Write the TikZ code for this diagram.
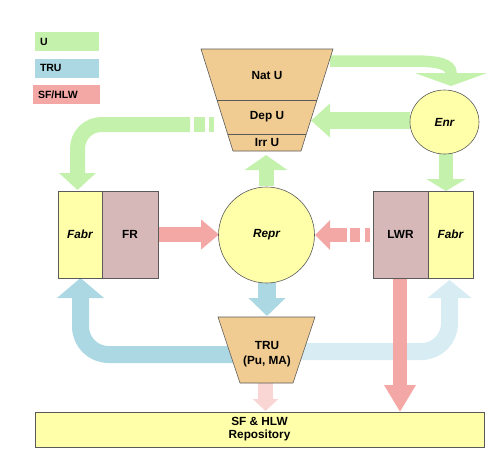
\documentclass[tikz,border=0pt]{standalone}
\usepackage{fontspec}
\setmainfont{Liberation Sans}
\usetikzlibrary{arrows.meta,shapes.geometric}
\definecolor{gU}{RGB}{196,242,172}
\definecolor{bT}{RGB}{172,216,228}
\definecolor{rS}{RGB}{244,168,166}
\definecolor{bTf}{RGB}{216,236,243}
\definecolor{rSf}{RGB}{249,214,212}
\definecolor{tanC}{RGB}{240,204,146}
\definecolor{yelC}{RGB}{255,255,170}
\definecolor{brnC}{RGB}{214,184,184}
\definecolor{edgeC}{RGB}{90,90,90}
\tikzset{
  lbl/.style={font=\fontsize{11.8}{13}\selectfont\bfseries, align=center, inner sep=0pt},
  legbox/.style={font=\fontsize{10.5}{12}\selectfont\bfseries, inner sep=0pt, minimum height=19pt, text width=54pt, inner xsep=5pt, align=left},
  shp/.style={draw=edgeC, line width=0.6pt},
  boxnode/.style={shp, lbl, minimum height=87pt},
  flow/.style={line cap=butt},
}
\begin{document}
\begin{tikzpicture}[x=1pt,y=-1pt]
\useasboundingbox (0,0) rectangle (496,459);
% legend
\node[legbox, fill=gU] (lgU) at (67,41.5) {U};
\node[legbox, fill=bT] (lgT) at (67,68) {TRU};
\node[legbox, fill=rS, text width=57pt] (lgS) at (66.5,94.5) {SF/HLW};

% coordinates
\coordinate (natR) at (330,61);
\coordinate (enrTop) at (451,86);
\coordinate (enrL) at (410,120.5);
\coordinate (depR) at (311,120.5);
\coordinate (brkL) at (190,124.5);
\coordinate (fabLtop) at (77.5,190);
\coordinate (reprTop) at (266,186);
\coordinate (irrB) at (266,155);
\coordinate (enrB) at (446,152);
\coordinate (fabRtop) at (446,191);
\coordinate (frR) at (158,234.5);
\coordinate (reprL) at (219,234.5);
\coordinate (lwrBrk) at (347,235);
\coordinate (reprR) at (315,235);
\coordinate (reprB) at (267,282);
\coordinate (truTop) at (267,316);
\coordinate (truL) at (240,354.5);
\coordinate (fabLbot) at (80.5,278);
\coordinate (truR) at (300,351.5);
\coordinate (fabRbot) at (449.5,280);
\coordinate (lwrB) at (400,278);
\coordinate (repoTop) at (400,412);
\coordinate (truB) at (265.5,383);
\coordinate (repoTop2) at (265.5,411);

% flows
\draw[flow, gU, line width=11.5pt, -{Triangle[length=13pt,width=72pt]}]
  (natR) -- (412,61) .. controls (438,61) and (451,64) .. (451,73) -- (enrTop);
\draw[flow, gU, line width=17pt, -{Triangle[length=19pt,width=33pt]}] (enrL) -- (depR);
\draw[flow, gU, line width=15pt, rounded corners=24pt, -{Triangle[length=17pt,width=36pt]}]
  (brkL) -- (77.5,124.5) -- (fabLtop);
\fill[gU] (194,117) rectangle (205,132);
\fill[gU] (209,117) rectangle (214,132);
\draw[flow, gU, line width=15pt, -{Triangle[length=15pt,width=42pt]}] (reprTop) -- (irrB);
\draw[flow, gU, line width=14pt, -{Triangle[length=12pt,width=39pt]}] (enrB) -- (fabRtop);
\draw[flow, rS, line width=15pt, -{Triangle[length=18pt,width=29pt]}] (frR) -- (reprL);
\draw[flow, rS, line width=14pt, -{Triangle[length=15pt,width=29pt]}] (lwrBrk) -- (reprR);
\fill[rS] (350,228) rectangle (360,242);
\fill[rS] (365,228) rectangle (370,242);
\draw[flow, bT, line width=18pt, -{Triangle[length=18pt,width=36pt]}] (reprB) -- (truTop);
\draw[flow, bT, line width=17pt, rounded corners=28pt, -{Triangle[length=20pt,width=46pt]}]
  (truL) -- (80.5,354.5) -- (fabLbot);
\draw[flow, bTf, line width=17pt, rounded corners=28pt, -{Triangle[length=18pt,width=43pt]}]
  (truR) -- (449.5,351.5) -- (fabRbot);
\draw[flow, rS, line width=14pt, -{Triangle[length=27pt,width=30pt]}] (lwrB) -- (repoTop);
\draw[flow, rSf, line width=15pt, -{Triangle[length=12pt,width=25pt]}] (truB) -- (repoTop2);

% top trapezoid (uranium)
\draw[shp, fill=tanC] (201,49) -- (333,49) -- (301,151) -- (233,151) -- cycle;
\draw[shp] (217,100) -- (317,100);
\draw[shp] (227.7,134) -- (306.3,134);
\node[lbl] (natu) at (267,75) {Nat U};
\node[lbl] (depu) at (267,117) {Dep U};
\node[lbl] (irru) at (267,142.5) {Irr U};

% circles
\node[shp, lbl, ellipse, fill=yelC, minimum width=69pt, minimum height=64pt] (enr) at (444.5,122) {\itshape Enr};
\node[shp, lbl, circle, fill=yelC, minimum size=96pt] (repr) at (266.5,235) {\itshape Repr};

% boxes
\node[boxnode, fill=yelC, minimum width=44pt] (fabrL) at (80,234.5) {\itshape Fabr};
\node[boxnode, fill=brnC, minimum width=56pt] (fr) at (130,234.5) {FR};
\node[boxnode, fill=brnC, minimum width=55pt] (lwr) at (400.5,234.5) {LWR};
\node[boxnode, fill=yelC, minimum width=45pt] (fabrR) at (450.5,234.5) {\itshape Fabr};

% TRU trapezoid
\draw[shp, fill=tanC] (218,317) -- (315,317) -- (293,383) -- (240,383) -- cycle;
\node[lbl, font=\fontsize{11.8}{15}\selectfont\bfseries] (tru) at (267,354) {TRU\\(Pu, MA)};

% repository
\node[shp, lbl, fill=yelC, minimum width=449pt, minimum height=35pt] (repo) at (259.5,429.5) {SF \& HLW\\Repository};
\end{tikzpicture}
\end{document}
